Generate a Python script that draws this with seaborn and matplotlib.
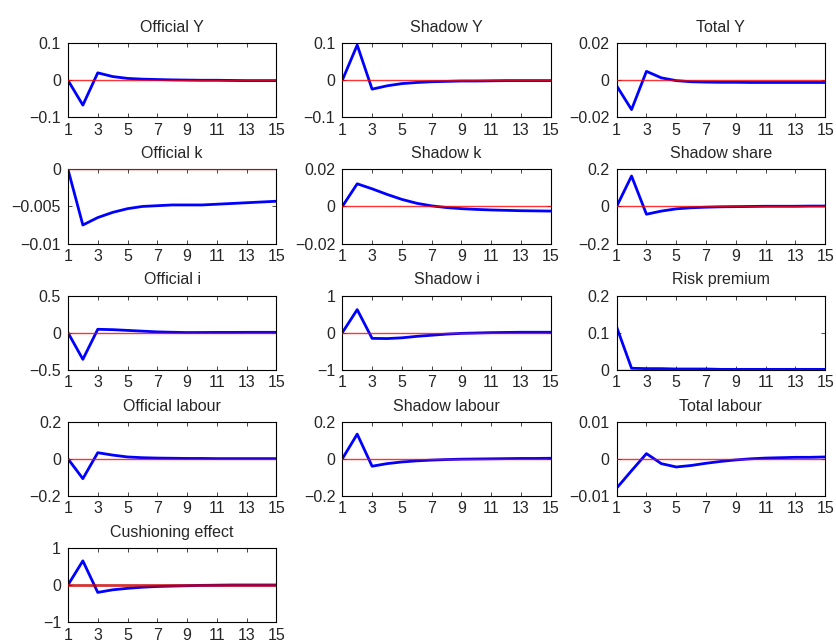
import matplotlib
matplotlib.use("Agg")
import matplotlib.pyplot as plt
import numpy as np
import pandas as pd
import seaborn as sns

# impulse responses, periods 1..15
periods = list(range(1, 16))

official_y = [0, -0.067, 0.020, 0.010, 0.005, 0.003, 0.002, 0.001, 0.0005, 0, 0, -0.0005, -0.001, -0.001, -0.001]
shadow_y = [0, 0.095, -0.024, -0.015, -0.009, -0.006, -0.004, -0.003, -0.002, -0.002, -0.0015, -0.001, -0.001, -0.001, -0.001]
total_y = [-0.003, -0.0158, 0.0048, 0.0013, -0.0002, -0.0008, -0.001, -0.0011, -0.0011, -0.0012, -0.0012, -0.0012, -0.0012, -0.0012, -0.0012]
official_k = [0, -0.0075, -0.0065, -0.0058, -0.0053, -0.0050, -0.0049, -0.0048, -0.0048, -0.0048, -0.0047, -0.0046, -0.0045, -0.0044, -0.0043]
shadow_k = [0, 0.0122, 0.0095, 0.0065, 0.0038, 0.0017, 0.0003, -0.0006, -0.0012, -0.0016, -0.0019, -0.0021, -0.0023, -0.0024, -0.0025]
shadow_share = [0, 0.164, -0.042, -0.025, -0.013, -0.007, -0.004, -0.002, -0.001, 0, 0.001, 0.001, 0.001, 0.002, 0.002]
official_i = [0, -0.36, 0.045, 0.040, 0.030, 0.020, 0.010, 0.005, 0.001, 0.002, 0.003, 0.003, 0.004, 0.004, 0.004]
shadow_i = [0, 0.62, -0.155, -0.16, -0.14, -0.10, -0.07, -0.04, -0.02, -0.01, 0, 0.005, 0.01, 0.01, 0.01]
risk_premium = [0.115, 0.004, 0.003, 0.003, 0.002, 0.002, 0.002, 0.001, 0.001, 0.001, 0.001, 0.001, 0.001, 0.001, 0.001]
official_labour = [0, -0.107, 0.033, 0.020, 0.010, 0.006, 0.004, 0.003, 0.002, 0.002, 0.001, 0.001, 0.001, 0.001, 0.001]
shadow_labour = [0, 0.133, -0.040, -0.026, -0.017, -0.011, -0.007, -0.004, -0.002, -0.001, 0, 0.001, 0.002, 0.002, 0.003]
total_labour = [-0.0079, -0.0032, 0.0014, -0.0013, -0.0022, -0.0018, -0.0012, -0.0007, -0.0003, 0, 0.0002, 0.0003, 0.0004, 0.0004, 0.0005]
cushioning = [0, 0.65, -0.20, -0.13, -0.09, -0.06, -0.04, -0.03, -0.02, -0.01, -0.005, 0, 0, 0, 0]

titles = ["Official Y", "Shadow Y", "Total Y",
          "Official k", "Shadow k", "Shadow share",
          "Official i", "Shadow i", "Risk premium",
          "Official labour", "Shadow labour", "Total labour",
          "Cushioning effect"]
series = [official_y, shadow_y, total_y, official_k, shadow_k, shadow_share,
          official_i, shadow_i, risk_premium, official_labour, shadow_labour,
          total_labour, cushioning]
y_limits = [(-0.1, 0.1), (-0.1, 0.1), (-0.02, 0.02),
            (-0.01, 0), (-0.02, 0.02), (-0.2, 0.2),
            (-0.5, 0.5), (-1, 1), (0, 0.2),
            (-0.2, 0.2), (-0.2, 0.2), (-0.01, 0.01),
            (-1, 1)]
y_ticks = [[-0.1, 0, 0.1], [-0.1, 0, 0.1], [-0.02, 0, 0.02],
           [-0.01, -0.005, 0], [-0.02, 0, 0.02], [-0.2, 0, 0.2],
           [-0.5, 0, 0.5], [-1, 0, 1], [0, 0.1, 0.2],
           [-0.2, 0, 0.2], [-0.2, 0, 0.2], [-0.01, 0, 0.01],
           [-1, 0, 1]]
x_ticks = [1, 3, 5, 7, 9, 11, 13, 15]

sns.set_style("ticks")
plt.rcParams["font.family"] = ["Liberation Sans", "DejaVu Sans"]
plt.rcParams["axes.unicode_minus"] = True


def fmt(v):
    if v == 0:
        return "0"
    s = f"{v:g}"
    return s.replace("-", "\u2212")


fig, axes = plt.subplots(5, 3, figsize=(8.36, 6.44), dpi=100)
fig.subplots_adjust(left=0.0813, right=0.987, top=0.933, bottom=0.034,
                    wspace=0.316, hspace=0.70)

for idx, ax in enumerate(axes.flat):
    if idx >= len(series):
        ax.set_visible(False)
        continue
    df = pd.DataFrame({"t": periods, "v": series[idx]})
    sns.lineplot(data=df, x="t", y="v", ax=ax, color="#0000ff", linewidth=2.0)
    lw = 2.0 if titles[idx] == "Cushioning effect" else 1.0
    zc = "#cc0000" if titles[idx] == "Cushioning effect" else "#ff0000"
    ax.axhline(0, color=zc, linewidth=lw, zorder=3, alpha=0.8)
    ax.set_xlim(1, 15)
    ax.set_ylim(*y_limits[idx])
    ax.set_xticks(x_ticks)
    ax.set_xticklabels([str(t) for t in x_ticks])
    ax.set_yticks(y_ticks[idx])
    ax.set_yticklabels([fmt(v) for v in y_ticks[idx]])
    ax.set_xlabel("")
    ax.set_ylabel("")
    ax.set_title(titles[idx], fontsize=11.5, pad=8)
    ax.tick_params(direction="in", top=True, right=True, length=3,
                   labelsize=11.5, width=0.6)
    ax.tick_params(axis="x", pad=4)
    ax.tick_params(axis="y", pad=5)
    for sp in ax.spines.values():
        sp.set_visible(True)
        sp.set_linewidth(0.8)
        sp.set_color("black")

fig.savefig("out.png", dpi=100, facecolor="white")
